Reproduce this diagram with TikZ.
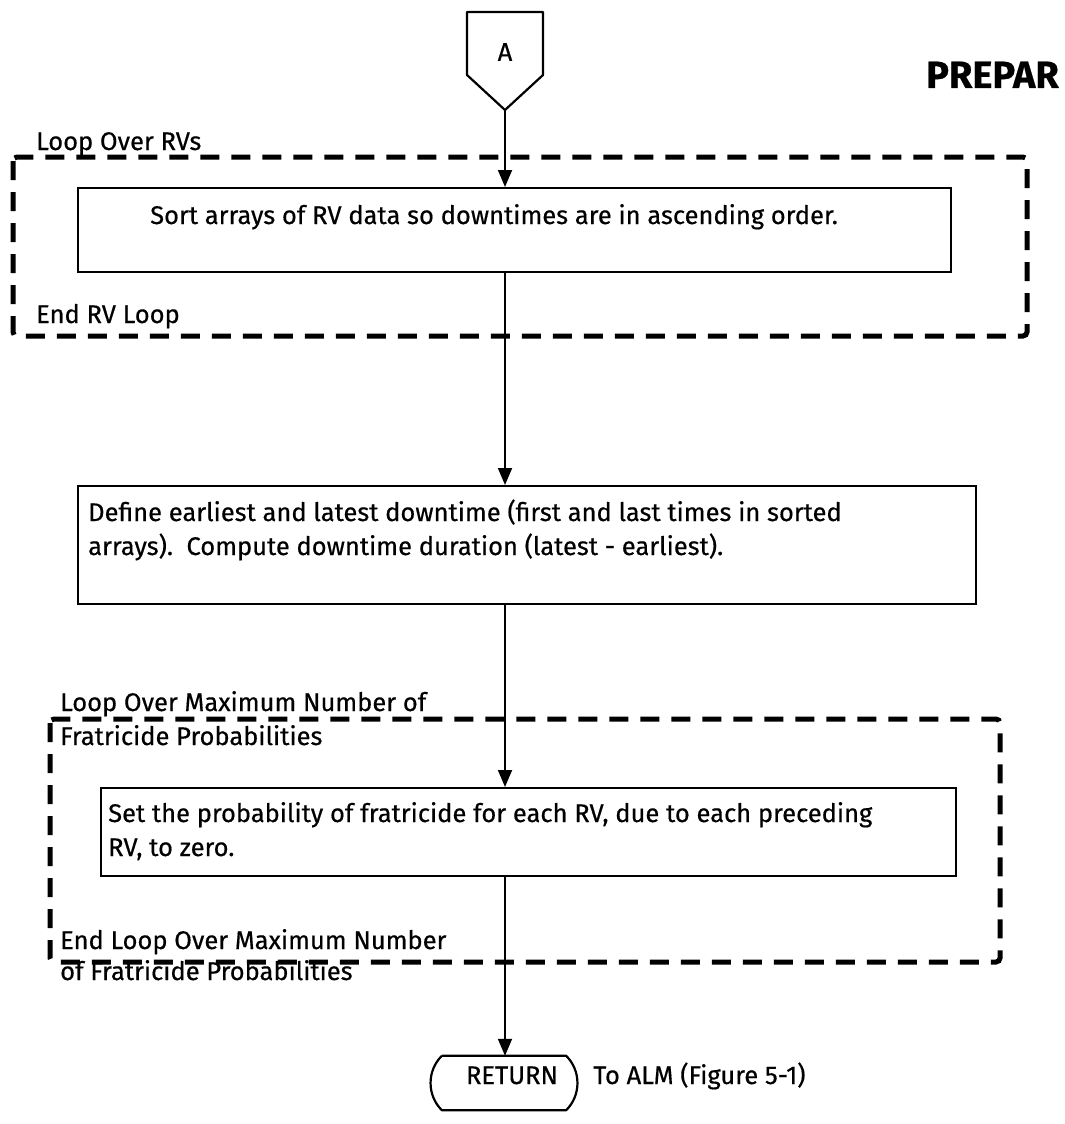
\documentclass[tikz,border=0pt]{standalone}
\usepackage{fontspec}
\setmainfont{Fira Sans}[FakeBold=0.5]
\usetikzlibrary{arrows.meta}
\begin{document}
\begin{tikzpicture}[x=1pt,y=-1pt,
  box/.style={draw, line width=2.2pt, inner sep=0pt, anchor=north west},
  loopbox/.style={draw, line width=5pt, dash pattern=on 19pt off 12pt, rounded corners=4pt},
  txt/.style={font=\fontsize{25.5}{34}\selectfont, inner sep=0pt, align=left},
  flow/.style={line width=1.8pt, -{Triangle[length=17pt,width=14pt]}},
  outline/.style={line width=2.2pt, line join=round}
]
\useasboundingbox (0,0) rectangle (1065,1124);

% title fragment
\node[font=\fontsize{38}{42}\selectfont\bfseries, inner sep=0pt, anchor=base west] (title) at (926,88) {PREPAR};

% off-page connector A
\draw[outline] (467,12) -- (543,12) -- (543,75) -- (505,110) -- (467,75) -- cycle;
\node[txt] (A) at (505,52) {A};
\coordinate (Atip) at (505,110);

% loop over RVs
\draw[loopbox] (13,157) rectangle (1027,336);
\node[txt, anchor=base west] (l1) at (36,150) {Loop Over RVs};
\node[txt, anchor=base west] (e1) at (36,323) {End RV Loop};

% box 1
\node[box, minimum width=873pt, minimum height=84pt] (b1) at (77,187) {};
\node[txt, anchor=base west] (t1) at (150,224) {Sort arrays of RV data so downtimes are in ascending order.};

% box 2 (base anchor = last line)
\node[box, minimum width=898pt, minimum height=118pt] (b2) at (77,485) {};
\node[txt, anchor=base west] (t2) at (88,555) {Define earliest and latest downtime (first and last times in sorted\\arrays).\ \ Compute downtime duration (latest - earliest).};

% loop over fratricide probabilities
\draw[loopbox] (50,719) rectangle (1000,962);
\node[txt, anchor=base west] (l2) at (60,745) {Loop Over Maximum Number of\\Fratricide Probabilities};
\node[txt, anchor=base west, font=\fontsize{25.5}{31}\selectfont] (e2) at (60,980) {End Loop Over Maximum Number\\of Fratricide Probabilities};

% box 3
\node[box, minimum width=855pt, minimum height=88pt] (b3) at (100,787) {};
\node[txt, anchor=base west] (t3) at (108,856) {Set the probability of fratricide for each RV, due to each preceding\\RV, to zero.};

% return terminal
\node[inner sep=0pt, minimum width=124pt, minimum height=54pt] (ret) at (504,1083) {};
\draw[outline] (ret.north west) -- (ret.north east) to[bend left=45] (ret.south east) -- (ret.south west) to[bend left=45] (ret.north west);
\node[txt, anchor=base] (rt) at (512,1084) {RETURN};
\node[txt, anchor=base west] (alm) at (593,1084) {To ALM (Figure 5-1)};

% connectors
\draw[flow] (Atip) -- (Atip |- b1.north);
\draw[flow] (b1.south -| Atip) -- (b2.north -| Atip);
\draw[flow] (b2.south -| Atip) -- (b3.north -| Atip);
\draw[flow] (b3.south -| Atip) -- (ret.north -| Atip);
\end{tikzpicture}
\end{document}
